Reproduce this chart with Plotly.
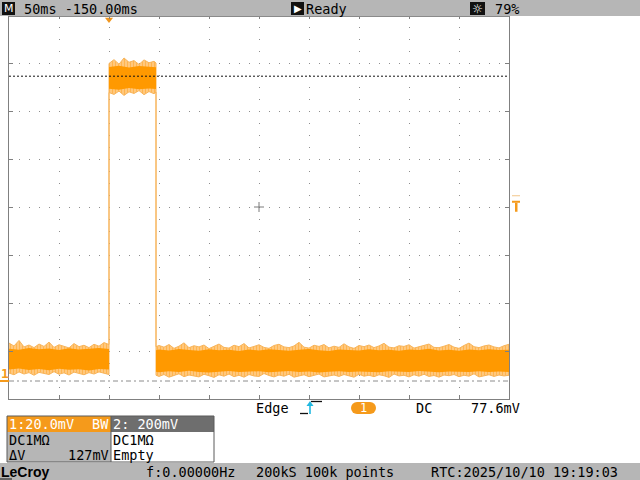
import plotly.graph_objects as go

# ---------------- data (time in ms relative to trigger, amplitude in mV) ----------------
t_left = [-100, -95, -90, -85, -80, -75, -70, -65, -60, -55,
          -50, -45, -40, -35, -30, -25, -20, -15, -10, -5, 0]
up_left = [15.8, 14.6, 16.9, 14.2, 15.0, 13.9, 15.4, 14.4, 16.2, 14.0,
           15.1, 14.6, 13.8, 15.6, 14.3, 14.9, 13.9, 15.3, 14.5, 16.0, 15.2]
lo_left = [3.3, 2.6, 3.8, 2.9, 3.5, 2.4, 3.6, 3.0, 2.7, 3.9,
           2.8, 3.4, 2.5, 3.7, 3.1, 2.6, 3.5, 2.9, 3.8, 3.2, 2.7]

t_high = [0, 5, 10, 15, 20, 25, 30, 35, 40, 45, 47]
up_high = [132.3, 133.9, 132.0, 134.6, 132.8, 133.5, 131.9, 133.8, 132.6, 133.2, 132.5]
lo_high = [120.2, 119.4, 120.8, 119.0, 120.5, 119.8, 121.0, 119.3, 120.6, 119.7, 120.4]

t_right = [47, 50, 55, 60, 65, 70, 75, 80, 85, 90,
           95, 100, 105, 110, 115, 120, 125, 130, 135, 140,
           145, 150, 155, 160, 165, 170, 175, 180, 185, 190,
           195, 200, 205, 210, 215, 220, 225, 230, 235, 240,
           245, 250, 255, 260, 265, 270, 275, 280, 285, 290,
           295, 300, 305, 310, 315, 320, 325, 330, 335, 340,
           345, 350, 355, 360, 365, 370, 375, 380, 385, 390,
           395, 400]
up_right = [14.3, 14.8, 14.1, 15.2, 13.6, 14.5, 15.9, 13.9, 14.7, 14.2,
            15.0, 13.5, 14.6, 15.4, 14.0, 13.7, 14.9, 14.3, 15.6, 13.8,
            14.4, 15.1, 14.0, 13.6, 14.8, 15.3, 14.2, 13.9, 14.6, 16.1,
            14.1, 13.7, 14.9, 14.4, 15.2, 13.8, 14.5, 14.0, 15.5, 14.2,
            13.6, 14.8, 14.3, 15.0, 13.9, 14.6, 15.7, 14.1, 13.8, 14.7,
            14.4, 15.1, 13.7, 14.2, 14.9, 15.4, 14.0, 13.9, 14.5, 15.2,
            14.1, 13.6, 14.8, 15.8, 14.3, 13.9, 14.6, 15.0, 14.2, 13.8,
            14.7, 15.3]
lo_right = [2.4, 1.9, 2.7, 1.6, 2.3, 3.0, 1.8, 2.5, 2.1, 1.7,
            2.8, 2.2, 1.5, 2.6, 2.0, 2.9, 1.8, 2.4, 1.6, 2.7,
            2.1, 1.9, 3.1, 2.3, 1.7, 2.5, 2.0, 2.8, 1.6, 2.2,
            2.6, 1.8, 2.4, 2.9, 1.7, 2.1, 2.5, 1.9, 2.7, 2.3,
            1.6, 2.8, 2.0, 2.4, 1.8, 2.6, 2.2, 1.5, 2.9, 2.1,
            2.4, 1.7, 2.6, 2.0, 2.8, 1.9, 2.3, 1.6, 2.5, 2.2,
            2.7, 1.8, 2.4, 2.0, 3.0, 1.7, 2.3, 2.6, 1.9, 2.5,
            2.1, 2.4]

# dense core of the trace
tc_left = [-100, -90, -80, -70, -60, -50, -40, -30, -20, -10, 0]
cu_left = [13.4, 13.0, 13.7, 13.2, 13.5, 12.9, 13.6, 13.1, 13.4, 13.8, 13.3]
cl_left = [4.8, 5.2, 4.6, 5.0, 4.5, 5.1, 4.7, 4.9, 4.4, 5.0, 4.8]
tc_high = [0, 10, 20, 30, 40, 47]
cu_high = [130.8, 131.4, 130.6, 131.2, 130.9, 130.7]
cl_high = [121.8, 121.4, 122.1, 121.6, 121.9, 121.7]
tc_right = [47, 50, 60, 70, 80, 90, 100, 110, 120, 130,
            140, 150, 160, 170, 180, 190, 200, 210, 220, 230,
            240, 250, 260, 270, 280, 290, 300, 310, 320, 330,
            340, 350, 360, 370, 380, 390, 400]
cu_right = [12.8, 13.1, 12.7, 13.3, 12.9, 12.6, 13.2, 12.8, 13.0, 12.5,
            13.1, 12.7, 13.2, 12.9, 12.6, 13.0, 13.3, 12.8, 12.5, 13.1,
            12.9, 12.7, 13.2, 12.8, 13.0, 12.6, 13.1, 12.9, 13.4, 12.7,
            13.0, 12.6, 13.1, 12.8, 13.2, 12.9, 13.0]
cl_right = [3.9, 3.6, 4.1, 3.7, 4.3, 3.8, 3.5, 4.0, 4.2, 3.7,
            3.9, 4.1, 3.6, 3.8, 4.2, 3.7, 4.0, 3.5, 3.9, 4.1,
            3.7, 4.0, 3.8, 3.6, 4.1, 3.9, 3.7, 4.2, 3.8, 3.6,
            4.0, 3.9, 3.7, 4.1, 3.8, 4.0, 3.7]

ground_mV = 0.0
cursor_mV = 127.0
trigger_level_mV = 77.6

top_texts = ["50ms -150.00ms", "Ready", "79%"]
trig_texts = ["Edge", "1", "DC", "77.6mV"]
ch1_texts = ["1:20.0mV", "BW", "DC1MΩ", "ΔV", "127mV"]
ch2_texts = ["2: 200mV", "DC1MΩ", "Empty"]
bottom_texts = ["LeCroy", "f:0.00000Hz", "200kS 100k points", "RTC:2025/10/10 19:19:03"]

# ---------------- layout helpers ----------------
W, H = 640, 480
L, R, T, B = 9, 509, 15, 399
X0, X1 = -100.0, 400.0
Y0, Y1 = -7.5, 152.5
MONO = "DejaVu Sans Mono"
ORANGE = "#F59A1B"
GRAY = "#B6B6B6"


def px(x, y):
    return (x - L) / (R - L), (B - y) / (B - T)


shapes = []
annotations = []


def rect(x0, y0, x1, y1, fill, line=None, lw=1):
    a0, b0 = px(x0, y0)
    a1, b1 = px(x1, y1)
    shapes.append(dict(type="rect", xref="paper", yref="paper", x0=a0, y0=b0, x1=a1, y1=b1,
                       fillcolor=fill, line=dict(color=line or fill, width=lw if line else 0),
                       layer="above"))


def seg(x0, y0, x1, y1, color, width=1, dash="solid"):
    a0, b0 = px(x0, y0)
    a1, b1 = px(x1, y1)
    shapes.append(dict(type="line", xref="paper", yref="paper", x0=a0, y0=b0, x1=a1, y1=b1,
                       line=dict(color=color, width=width, dash=dash), layer="above"))


def text(x, y, s, color="black", size=13, anchor="left", family=MONO):
    a, b = px(x, y)
    annotations.append(dict(x=a, y=b, xref="paper", yref="paper", text=s, showarrow=False,
                            xanchor=anchor, yanchor="middle", borderpad=0,
                            font=dict(family=family, size=size, color=color)))


fig = go.Figure()

# outer envelope (light fringe of the noisy trace)
ox = t_left + t_high + t_right + t_right[::-1] + t_high[::-1] + t_left[::-1]
oy = up_left + up_high + up_right + lo_right[::-1] + lo_high[::-1] + lo_left[::-1]
fig.add_trace(go.Scatter(x=ox, y=oy, mode="lines", fill="toself",
                         fillcolor="#FFB750",
                         fillpattern=dict(shape="|", fgcolor="#FF9C1A", bgcolor="#FFCC85",
                                          size=3, solidity=0.45),
                         line=dict(color="#F7B45A", width=1), hoverinfo="skip"))
# dense core
cx = tc_left + tc_high + tc_right + tc_right[::-1] + tc_high[::-1] + tc_left[::-1]
cy = cu_left + cu_high + cu_right + cl_right[::-1] + cl_high[::-1] + cl_left[::-1]
fig.add_trace(go.Scatter(x=cx, y=cy, mode="lines", fill="toself", fillcolor="#FF9900",
                         line=dict(color="#FF9900", width=0), hoverinfo="skip"))
# trigger position marker
fig.add_trace(go.Scatter(x=[0], y=[150.6], mode="markers", cliponaxis=False,
                         marker=dict(symbol="triangle-down", size=7, color="#F0961E"),
                         hoverinfo="skip"))

# ground reference (dash-dot) and cursor (dotted)
shapes.append(dict(type="line", xref="paper", yref="y", x0=0, x1=1, y0=ground_mV, y1=ground_mV,
                   line=dict(color="#8C8C8C", width=1, dash="5px,3px,2px,3px")))
shapes.append(dict(type="line", xref="paper", yref="y", x0=0, x1=1, y0=cursor_mV, y1=cursor_mV,
                   line=dict(color="#111111", width=1, dash="2px,2px")))
# center cross
seg(254, 207, 264, 207, "#7A7A7A", 1)
seg(259, 202, 259, 212, "#7A7A7A", 1)

# channel 1 ground marker on the left
text(4.5, 373, "<b>1</b>", color=ORANGE, size=13, anchor="center")
seg(0, 381, 9, 381, ORANGE, 2)

# trigger level marker on the right
yT = B - (trigger_level_mV - Y0) / (Y1 - Y0) * (B - T)
seg(512, yT + 1, 520, yT + 1, "#F2C68A", 1)
rect(512, yT + 6, 520, yT + 8, ORANGE)
rect(515, yT + 8, 517.5, yT + 17, ORANGE)

# top status bar
rect(0, 0, 640, 16, GRAY)
seg(L, 16.5, R, 16.5, "#8A8A8A", 1)
rect(2, 2, 15, 15, "#111111")
text(8.5, 8.5, "M", color="white", size=11, anchor="center", family="DejaVu Sans")
text(23, 8.5, top_texts[0], size=13.5)
rect(291, 2, 304, 15, "#111111")
text(297.8, 8.5, "▶", color="white", size=10, anchor="center", family="DejaVu Sans")
text(305, 8.5, top_texts[1], size=13.5)
rect(470, 2, 485, 15, "#111111")
text(477.5, 8.5, "☼", color="white", size=12, anchor="center", family="DejaVu Sans")
text(494, 8.5, top_texts[2], size=13.5)

# trigger info row
text(255, 408, trig_texts[0], size=13.5)
seg(300, 413.5, 308, 413.5, "#111111", 1.3)
seg(311, 401.5, 322, 401.5, "#111111", 1.3)
seg(310, 405, 310, 414, "#21B8E0", 1.6)
shapes.append(dict(type="path", xref="paper", yref="paper", layer="above",
                   path="M {} {} L {} {} L {} {} Z".format(*px(306.5, 406), *px(313.5, 406), *px(310, 401)),
                   fillcolor="#21B8E0", line=dict(width=0)))
rect(357, 402, 370, 414, ORANGE)
for cxp in (357, 370):
    a0, b0 = px(cxp - 6, 402)
    a1, b1 = px(cxp + 6, 414)
    shapes.append(dict(type="circle", xref="paper", yref="paper", x0=a0, y0=b0, x1=a1, y1=b1,
                       fillcolor=ORANGE, line=dict(width=0), layer="above"))
text(363.5, 408, trig_texts[1], color="white", size=12, anchor="center")
text(415, 408, trig_texts[2], size=13.5)
text(470, 408, trig_texts[3], size=13.5)

# channel box
rect(7, 416, 111, 432, ORANGE)
rect(111, 416, 214, 432, "#6E6E6E")
rect(7, 432, 111, 462, GRAY)
rect(111, 432, 214, 462, "white")
rect(7, 416, 214, 462, "rgba(0,0,0,0)", line="#5A5A5A", lw=1)
seg(111, 416, 111, 462, "#5A5A5A", 1)
text(8, 424, ch1_texts[0], color="white", size=13.5)
text(110, 424, ch1_texts[1], color="white", size=13.5, anchor="right")
text(112, 424, ch2_texts[0], color="white", size=13.5)
text(8, 440, ch1_texts[2], size=13.5)
text(8, 455, ch1_texts[3], size=13.5)
text(110, 455, ch1_texts[4], size=13.5, anchor="right")
text(112, 440, ch2_texts[1], size=13.5)
text(112, 455, ch2_texts[2], size=13.5)

# bottom status bar
rect(0, 463, 640, 480, GRAY)
text(0, 471.5, "<b>" + bottom_texts[0] + "</b>", size=14, family="Liberation Sans Narrow, Liberation Sans")
seg(0, 479, 12, 479, "#111111", 1)
text(145, 471.5, bottom_texts[1], size=13.5)
text(255, 471.5, bottom_texts[2], size=13.5)
text(430, 471.5, bottom_texts[3], size=13.5)

axis_common = dict(showticklabels=False, ticks="inside", ticklen=4, tickcolor="#808080",
                   tickwidth=1, showline=True, linecolor="#808080", linewidth=1,
                   mirror="ticks", zeroline=False, showgrid=True, gridcolor="#8E8E8E",
                   gridwidth=1, fixedrange=True)

fig.update_layout(
    width=W, height=H, autosize=False,
    margin=dict(l=L, r=W - R, t=T, b=H - B, pad=0),
    paper_bgcolor="white", plot_bgcolor="white",
    showlegend=False,
    xaxis=dict(range=[X0, X1], tick0=-100, dtick=50, griddash="1px,11px", **axis_common),
    yaxis=dict(range=[Y0, Y1], tick0=12.5, dtick=20, griddash="1px,9px", **axis_common),
    shapes=shapes, annotations=annotations,
)

fig.write_html("out.html", config={"displayModeBar": False},
               post_script="document.body.style.margin='0';document.body.style.overflow='hidden';")
